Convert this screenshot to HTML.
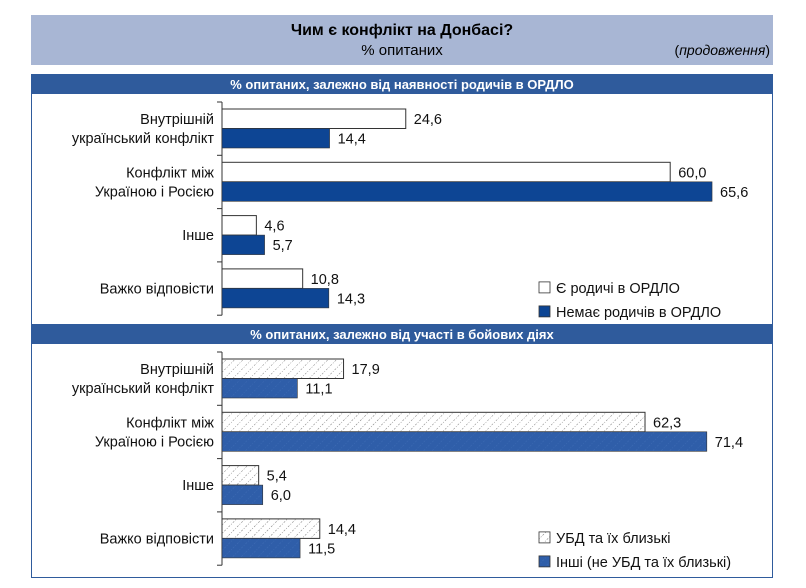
<!DOCTYPE html>
<html><head><meta charset="utf-8"><style>
body{margin:0;background:#fff;width:806px;height:588px;overflow:hidden;font-family:"Liberation Sans",sans-serif}
svg{display:block}
text{font-family:"Liberation Sans",sans-serif}
</style></head><body>
<svg width="806" height="588">
<defs>
<pattern id="hatch" width="6" height="6" patternUnits="userSpaceOnUse" patternTransform="rotate(45)">
<rect width="6" height="6" fill="#fff"/><line x1="0" y1="0" x2="0" y2="6" stroke="#777" stroke-width="1" stroke-dasharray="1,1.5"/></pattern>
<pattern id="hatchb" width="6" height="6" patternUnits="userSpaceOnUse" patternTransform="rotate(45)">
<rect width="6" height="6" fill="#2f5ea9"/><line x1="0" y1="0" x2="0" y2="6" stroke="#3f6db5" stroke-width="1" stroke-dasharray="1,1.5"/></pattern>
</defs>
<rect x="31" y="15" width="742" height="50" fill="#a8b6d4"/>
<text x="402" y="35" text-anchor="middle" font-size="16" font-weight="bold">Чим є конфлікт на Донбасі?</text>
<text x="402" y="55" text-anchor="middle" font-size="15">% опитаних</text>
<text x="770" y="55" text-anchor="end" font-size="14">(<tspan font-style="italic">продовження</tspan>)</text>
<rect x="31.5" y="74.5" width="741" height="503" fill="none" stroke="#2f5b9c" stroke-width="1"/>
<g id="g"></g>
</svg>
<script>
const categories=["Внутрішній|український конфлікт","Конфлікт між|Україною і Росією","Інше","Важко відповісти"];
const p1Series1=[24.6,60.0,4.6,10.8];
const p1Series2=[14.4,65.6,5.7,14.3];
const p2Series1=[17.9,62.3,5.4,14.4];
const p2Series2=[11.1,71.4,6.0,11.5];
const p1Titles=["% опитаних, залежно від наявності родичів в ОРДЛО"];
const p2Titles=["% опитаних, залежно від участі в бойових діях"];
const p1Legend=["Є родичі в ОРДЛО","Немає родичів в ОРДЛО"];
const p2Legend=["УБД та їх близькі","Інші (не УБД та їх близькі)"];
const NS="http://www.w3.org/2000/svg",g=document.getElementById('g');
function mk(t,a,txt){const e=document.createElementNS(NS,t);for(const k in a)e.setAttribute(k,a[k]);if(txt!=null)e.textContent=txt;g.appendChild(e);return e;}
function fmt(v){return v.toFixed(1).replace('.',',');}
function panel(top,scale,s1,s2,title,legend,f1,f2,pre){
  let e=mk('rect',{x:31,y:top,width:742,height:20,fill:'#2f5b9c'});
  
  e=mk('text',{x:402,y:top+15,'text-anchor':'middle','font-size':13,'font-weight':'bold',fill:'#fff'},title);
  
  const x0=222,step=53.3,ax0=top+28;
  const xs=v=>x0+v*scale;
  e=mk('line',{x1:x0,y1:ax0,x2:x0,y2:ax0+step*4,stroke:'#333'});
  
  for(let i=0;i<=4;i++){e=mk('line',{x1:x0-5,y1:ax0+step*i,x2:x0,y2:ax0+step*i,stroke:'#333'});
    }
  categories.forEach((c,i)=>{
    const gy=ax0+step*i+7,h=19.5;
    const lines=c.split('|');const cy=gy+h;
    lines.forEach((l,j)=>{e=mk('text',{x:214,y:cy+5+(j-(lines.length-1)/2)*19,'text-anchor':'end','font-size':14.5,fill:'#111'},l);
      });
    e=mk('rect',{x:x0,y:gy,width:s1[i]*scale,height:h,fill:f1,stroke:'#333','stroke-width':1});
    
    e=mk('text',{x:xs(s1[i])+8,y:gy+15,'font-size':14.5,fill:'#111'},fmt(s1[i]));
    
    e=mk('rect',{x:x0,y:gy+h,width:s2[i]*scale,height:h,fill:f2,stroke:'#333','stroke-width':0.6});
    
    e=mk('text',{x:xs(s2[i])+8,y:gy+h+15,'font-size':14.5,fill:'#111'},fmt(s2[i]));
    
  });
  const ly=ax0+step*3+20;
  [[legend[0],f1],[legend[1],f2]].forEach((L,k)=>{
    e=mk('rect',{x:539,y:ly+k*24,width:11,height:11,fill:L[1],stroke:'#333','stroke-width':0.8});
    
    e=mk('text',{x:556,y:ly+k*24+11,'font-size':14.5,fill:'#111'},L[0]);
    
  });
}
panel(74,7.47,p1Series1,p1Series2,p1Titles[0],p1Legend,'#fff','#0d4594','p1');
panel(324,6.79,p2Series1,p2Series2,p2Titles[0],p2Legend,'url(#hatch)','url(#hatchb)','p2');
</script>
</body></html>
